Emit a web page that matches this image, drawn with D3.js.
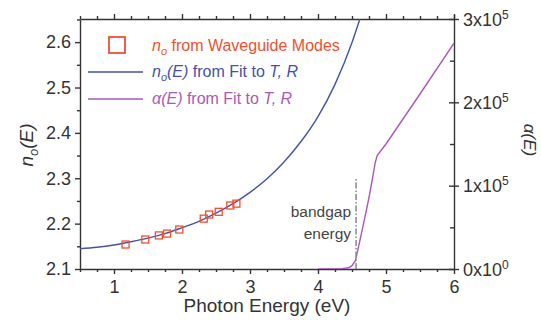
<!DOCTYPE html>
<html>
<head>
<meta charset="utf-8">
<script src="https://cdn.jsdelivr.net/npm/d3@7"></script>
<style>
  body { margin: 0; background: #fff; }
  svg { font-family: "Liberation Sans", Arial, sans-serif; }
</style>
</head>
<body>
<div id="chart"></div>
<script>
// waveguide mode points
var modeE = [1.17, 1.46, 1.66, 1.78, 1.96, 2.32, 2.40, 2.54, 2.71, 2.80];
var modeN = [2.154, 2.165, 2.174, 2.178, 2.187, 2.211, 2.220, 2.226, 2.240, 2.244];

// n_o(E) fit curve
var fitE = [0.5, 0.75, 1.0, 1.25, 1.5, 1.75, 2.0, 2.25, 2.5, 2.75, 3.0, 3.25, 3.5, 3.75, 4.0, 4.25, 4.5, 4.6, 4.7];
var fitN = [2.145, 2.148, 2.153, 2.160, 2.168, 2.178, 2.191, 2.205, 2.223, 2.244, 2.269, 2.299, 2.336, 2.381, 2.436, 2.507, 2.599, 2.644, 2.69];

// alpha(E) fit curve
var alphaE = [4.0, 4.2, 4.35, 4.45, 4.5, 4.55, 4.6, 4.65, 4.7, 4.75, 4.8, 4.84, 4.87, 5.0, 5.5, 6.0];
var alphaV = [0, 0, 300, 1500, 4000, 10000, 28000, 47000, 66000, 86000, 108000, 127000, 136000, 150000, 210000, 271000];

var xTicks = [1, 2, 3, 4, 5, 6];
var nTicks = [2.1, 2.2, 2.3, 2.4, 2.5, 2.6];
var aTicks = [0, 1, 2, 3]; // x10^5
var bandgapE = 4.56;

var W = 541, H = 320;
var margin = {top: 19, right: 87, bottom: 51, left: 80};
var width = W - margin.left - margin.right,
    height = H - margin.top - margin.bottom;

var svg = d3.select("#chart").append("svg")
    .attr("width", W)
    .attr("height", H);

var g = svg.append("g")
    .attr("transform", "translate(" + margin.left + "," + margin.top + ")");

// Scales
var x = d3.scaleLinear().domain([0.5, 6]).range([0, width]);
var y = d3.scaleLinear().domain([2.1, 2.651]).range([height, 0]);
var y2 = d3.scaleLinear().domain([0, 300000]).range([height, 0]);

var minorX = d3.range(0.5, 6.01, 0.25).filter(function (d) { return Math.abs(d - Math.round(d)) > 0.01; });
var minorN = d3.range(2.15, 2.66, 0.1);
var minorA = [50000, 150000, 250000];

var textColor = "#333";

// minor ticks
function minorAxis(axis, vals, len) {
    return axis.tickValues(vals).tickSize(len).tickFormat("");
}

g.append("g").attr("class", "axis")
    .attr("transform", "translate(0," + height + ")")
    .call(minorAxis(d3.axisBottom(x), minorX, 3))
    .call(function (s) { s.select(".domain").remove(); });
g.append("g").attr("class", "axis")
    .call(minorAxis(d3.axisTop(x), minorX, 3))
    .call(function (s) { s.select(".domain").remove(); });
g.append("g").attr("class", "axis")
    .call(minorAxis(d3.axisLeft(y), minorN, 3))
    .call(function (s) { s.select(".domain").remove(); });
g.append("g").attr("class", "axis")
    .attr("transform", "translate(" + width + ",0)")
    .call(minorAxis(d3.axisLeft(y2), minorA, 4))
    .call(function (s) { s.select(".domain").remove(); });

// x axis bottom
var xAxisG = g.append("g").attr("class", "axis")
    .attr("transform", "translate(0," + height + ")")
    .call(d3.axisBottom(x).tickValues(xTicks).tickFormat(d3.format("d")).tickSize(5).tickSizeOuter(0).tickPadding(6));
xAxisG.selectAll("text").attr("font-size", 18).attr("fill", textColor);

// top axis
g.append("g").attr("class", "axis")
    .call(d3.axisTop(x).tickValues(xTicks).tickSize(5).tickSizeOuter(0).tickFormat(""));

// left axis
var yAxisG = g.append("g").attr("class", "axis")
    .call(d3.axisLeft(y).tickValues(nTicks).tickFormat(d3.format(".1f")).tickSize(5).tickSizeOuter(0).tickPadding(4));
yAxisG.selectAll("text").attr("font-size", 18).attr("fill", textColor);

// right axis
var y2AxisG = g.append("g").attr("class", "axis")
    .attr("transform", "translate(" + width + ",0)")
    .call(d3.axisRight(y2).tickValues(aTicks.map(function (d) { return d * 1e5; }))
        .tickSize(5).tickSizeOuter(0).tickFormat(""));
y2AxisG.select(".domain").attr("d", "M0.5,-4V" + (height + 0.5));
y2AxisG.selectAll(".tick line").attr("x1", -5);
y2AxisG.selectAll(".tick").each(function (d) {
    var t = d3.select(this).append("text")
        .attr("x", 9).attr("dy", "0.35em")
        .attr("font-size", 18).attr("fill", textColor)
        .attr("text-anchor", "start");
    var k = Math.round(d / 1e5);
    t.append("tspan").text(k + "x10");
    t.append("tspan").attr("font-size", 12).attr("dy", -7).text(k === 0 ? "0" : "5");
});

g.selectAll(".axis path, .axis line").attr("stroke", "#333").attr("stroke-width", 1.4);

// clip
svg.append("defs").append("clipPath").attr("id", "plotclip")
    .append("rect").attr("width", width).attr("height", height);

var plot = g.append("g").attr("clip-path", "url(#plotclip)");

var blue = "#4252a8", purple = "#aa58b8", red = "#f0502f";

// n_o fit line
var fitData = fitE.map(function (e, i) { return {e: e, v: fitN[i]}; });
plot.append("path")
    .datum(fitData)
    .attr("fill", "none")
    .attr("stroke", blue)
    .attr("stroke-width", 1.4)
    .attr("d", d3.line().x(function (d) { return x(d.e); }).y(function (d) { return y(d.v); }).curve(d3.curveMonotoneX));

// alpha line
var alphaData = alphaE.map(function (e, i) { return {e: e, v: alphaV[i]}; });
plot.append("path")
    .datum(alphaData)
    .attr("fill", "none")
    .attr("stroke", purple)
    .attr("stroke-width", 1.4)
    .attr("d", d3.line().x(function (d) { return x(d.e); }).y(function (d) { return y2(d.v); }));

// bandgap marker
var bgTop = y2(110000);
g.append("line")
    .attr("x1", x(bandgapE)).attr("x2", x(bandgapE))
    .attr("y1", height).attr("y2", bgTop)
    .attr("stroke", "#888").attr("stroke-width", 1.5)
    .attr("stroke-dasharray", "6,2,1.5,2");
g.append("text")
    .attr("x", x(bandgapE) - 5).attr("y", bgTop + 40)
    .attr("text-anchor", "end").attr("font-size", 15.5).attr("fill", "#444")
    .text("bandgap");
g.append("text")
    .attr("x", x(bandgapE) - 5).attr("y", bgTop + 62)
    .attr("text-anchor", "end").attr("font-size", 15.5).attr("fill", "#444")
    .text("energy");

// waveguide squares
var modeData = modeE.map(function (e, i) { return {e: e, v: modeN[i]}; });
plot.selectAll(".mode")
    .data(modeData)
    .enter().append("rect")
    .attr("class", "mode")
    .attr("x", function (d) { return x(d.e) - 3.5; })
    .attr("y", function (d) { return y(d.v) - 3.5; })
    .attr("width", 7).attr("height", 7)
    .attr("fill", "none").attr("stroke", red).attr("stroke-width", 1.3);

// legend
var leg = svg.append("g");
leg.append("rect").attr("x", 109).attr("y", 37).attr("width", 16).attr("height", 16)
    .attr("fill", "none").attr("stroke", red).attr("stroke-width", 1.8);
var t1 = leg.append("text").attr("x", 152).attr("y", 51).attr("font-size", 16).attr("fill", red);
t1.append("tspan").attr("font-style", "italic").text("n");
t1.append("tspan").attr("font-style", "italic").attr("font-size", 11).attr("dy", 4).text("o");
t1.append("tspan").attr("dy", -4).text(" from Waveguide Modes");

leg.append("line").attr("x1", 88).attr("x2", 143).attr("y1", 72).attr("y2", 72)
    .attr("stroke", blue).attr("stroke-width", 1.4);
var t2 = leg.append("text").attr("x", 152).attr("y", 77).attr("font-size", 16).attr("fill", blue);
t2.append("tspan").attr("font-style", "italic").text("n");
t2.append("tspan").attr("font-style", "italic").attr("font-size", 11).attr("dy", 4).text("o");
t2.append("tspan").attr("font-style", "italic").attr("dy", -4).text("(E)");
t2.append("tspan").text(" from Fit to ");
t2.append("tspan").attr("font-style", "italic").text("T, R");

leg.append("line").attr("x1", 88).attr("x2", 143).attr("y1", 99).attr("y2", 99)
    .attr("stroke", purple).attr("stroke-width", 1.4);
var t3 = leg.append("text").attr("x", 152).attr("y", 104).attr("font-size", 16).attr("fill", purple);
t3.append("tspan").attr("font-style", "italic").text("\u03b1(E)");
t3.append("tspan").text(" from Fit to ");
t3.append("tspan").attr("font-style", "italic").text("T, R");

// axis titles
svg.append("text")
    .attr("x", margin.left + x(3.25)).attr("y", 312)
    .attr("text-anchor", "middle").attr("font-size", 19).attr("fill", textColor)
    .text("Photon Energy (eV)");

var yl = svg.append("text")
    .attr("transform", "translate(33,145) rotate(-90)")
    .attr("text-anchor", "middle").attr("font-size", 19).attr("fill", textColor);
yl.append("tspan").attr("font-style", "italic").text("n");
yl.append("tspan").attr("font-style", "italic").attr("font-size", 13).attr("dy", 5).text("o");
yl.append("tspan").attr("font-style", "italic").attr("dy", -5).text("(E)");

svg.append("text")
    .attr("transform", "translate(524,140) rotate(90)")
    .attr("text-anchor", "middle").attr("font-size", 17).attr("fill", textColor)
    .attr("font-style", "italic")
    .text("\u03b1(E)");
</script>
</body>
</html>
